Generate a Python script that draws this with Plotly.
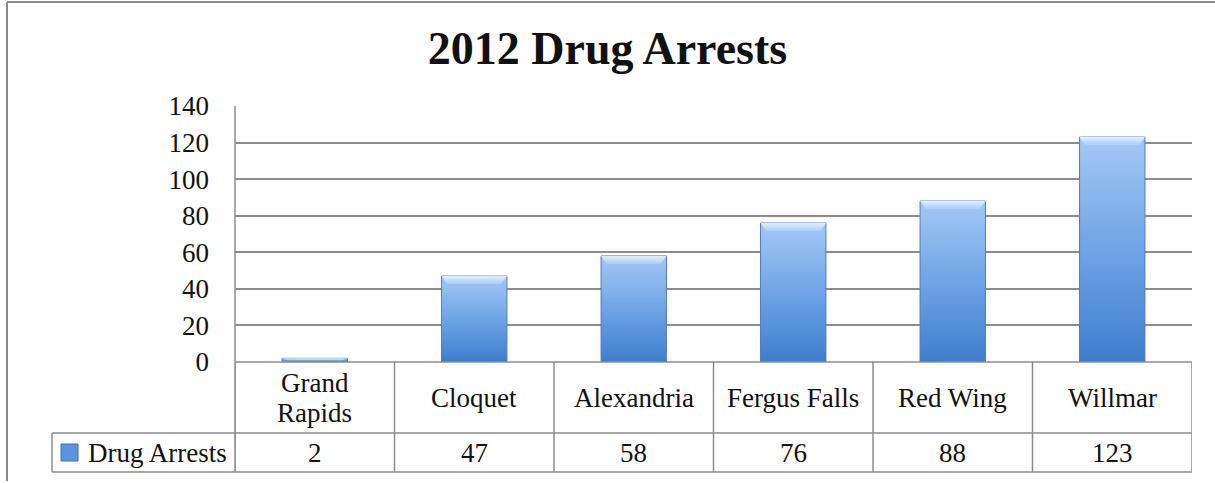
import plotly.graph_objects as go

# ---- data -------------------------------------------------------------
cities = ["Grand Rapids", "Cloquet", "Alexandria", "Fergus Falls", "Red Wing", "Willmar"]
city_labels = ["Grand<br>Rapids", "Cloquet", "Alexandria", "Fergus Falls", "Red Wing", "Willmar"]
arrests = [2, 47, 58, 76, 88, 123]
series_name = "Drug Arrests"
y_ticks = [0, 20, 40, 60, 80, 100, 120, 140]
chart_title = "2012 Drug Arrests"

# ---- layout geometry (pixels) ----------------------------------------
W, H = 1215, 483
L, R, T, B = 235, 23, 106, 121
plot_w = W - L - R
plot_h = H - T - B

FONT = "Liberation Serif"
FS = 27
GRID = "#8c8c8c"
TEXT = "#111111"


def paper_y(py):
    """pixel row -> paper y"""
    return (H - B - py) / plot_h


def paper_x(px):
    """pixel column -> paper x"""
    return (px - L) / plot_w


row1_bottom = paper_y(433)
row2_bottom = paper_y(472)
legend_left = paper_x(52)

fig = go.Figure()

# ---- bars with vertical gradient and a light bevel on top ------------
half_w = 0.205
bevel_px = 8
units_per_px = (y_ticks[-1] - y_ticks[0]) / plot_h
inset = 0.035
for i, v in enumerate(arrests):
    x0, x1 = i - half_w, i + half_w
    fig.add_trace(go.Scatter(
        x=[x0, x1, x1, x0, x0], y=[0, 0, v, v, 0],
        mode="lines", fill="toself",
        fillgradient=dict(type="vertical",
                          colorscale=[[0, "#3f7dcd"], [0.45, "#6aa0e4"], [1, "#a5c8f5"]]),
        line=dict(color="#4f7db8", width=1),
        hoverinfo="skip", showlegend=False,
    ))
    bev = min(bevel_px * units_per_px, v * 0.5)
    fig.add_trace(go.Scatter(
        x=[x0, x1, x1 - inset, x0 + inset, x0], y=[v, v, v - bev, v - bev, v],
        mode="lines", fill="toself",
        fillgradient=dict(type="vertical",
                          colorscale=[[0, "#aacdf7"], [1, "#dff0fe"]]),
        line=dict(color="rgba(0,0,0,0)", width=0),
        hoverinfo="skip", showlegend=False,
    ))

shapes = []
line_style = dict(color=GRID, width=1.5)

# table: vertical cell borders at category boundaries
for k in range(len(cities) + 1):
    shapes.append(dict(type="line", xref="x", yref="paper",
                       x0=k - 0.5, x1=k - 0.5, y0=0, y1=row2_bottom, line=line_style))
# left axis line spans plot and table
shapes.append(dict(type="line", xref="paper", yref="paper", x0=0, x1=0,
                   y0=1, y1=row2_bottom, line=line_style))
# horizontal table lines
shapes.append(dict(type="line", xref="paper", yref="paper", x0=0, x1=1,
                   y0=0, y1=0, line=line_style))
shapes.append(dict(type="line", xref="paper", yref="paper", x0=legend_left, x1=1,
                   y0=row1_bottom, y1=row1_bottom, line=line_style))
shapes.append(dict(type="line", xref="paper", yref="paper", x0=legend_left, x1=1,
                   y0=row2_bottom, y1=row2_bottom, line=line_style))
shapes.append(dict(type="line", xref="paper", yref="paper", x0=legend_left, x1=legend_left,
                   y0=row1_bottom, y1=row2_bottom, line=line_style))
# legend key swatch
shapes.append(dict(type="rect", xref="paper", yref="paper",
                   x0=paper_x(61), x1=paper_x(78), y0=paper_y(461), y1=paper_y(444),
                   fillcolor="#5d95dd", line=dict(color="#3d6fae", width=1)))
# outer chart frame (left and top edges)
shapes.append(dict(type="line", xref="paper", yref="paper",
                   x0=paper_x(7), x1=paper_x(7), y0=paper_y(2), y1=paper_y(481),
                   line=dict(color="#8a8a8a", width=2)))
shapes.append(dict(type="line", xref="paper", yref="paper",
                   x0=paper_x(7), x1=paper_x(1216), y0=paper_y(2), y1=paper_y(2),
                   line=dict(color="#8a8a8a", width=2)))

annotations = []
mid1_px = (362 + 433) / 2
mid2 = (row1_bottom + row2_bottom) / 2
line_gap_px = 30
for i, (lab, v) in enumerate(zip(city_labels, arrests)):
    lines = lab.split("<br>")
    n = len(lines)
    for j, part in enumerate(lines):
        cy = mid1_px + (j - (n - 1) / 2) * line_gap_px
        annotations.append(dict(x=i, y=paper_y(cy), xref="x", yref="paper", text=part,
                                showarrow=False, font=dict(family=FONT, size=FS, color=TEXT),
                                xanchor="center", yanchor="middle"))
    annotations.append(dict(x=i, y=mid2, xref="x", yref="paper", text=str(v),
                            showarrow=False, font=dict(family=FONT, size=FS, color=TEXT),
                            xanchor="center", yanchor="middle"))
annotations.append(dict(x=paper_x(229), y=mid2, xref="paper", yref="paper",
                        text=series_name, showarrow=False,
                        font=dict(family=FONT, size=FS, color=TEXT),
                        xanchor="right", yanchor="middle"))

fig.update_layout(
    width=W, height=H,
    margin=dict(l=L, r=R, t=T, b=B),
    paper_bgcolor="white", plot_bgcolor="white",
    title=dict(text="<b>" + chart_title + "</b>", x=0.5, xanchor="center",
               y=1 - 48 / H, yanchor="middle", yref="container",
               font=dict(family=FONT, size=46, color=TEXT)),
    xaxis=dict(range=[-0.5, len(cities) - 0.5], showgrid=False, zeroline=False,
               showticklabels=False, ticks="", fixedrange=True),
    yaxis=dict(range=[y_ticks[0], y_ticks[-1]], tickvals=y_ticks,
               showgrid=True, gridcolor=GRID, gridwidth=1.5, zeroline=False,
               ticks="", ticklabelstandoff=25,
               tickfont=dict(family=FONT, size=FS, color=TEXT), fixedrange=True),
    shapes=shapes, annotations=annotations, showlegend=False,
)

fig.write_html("out.html")
